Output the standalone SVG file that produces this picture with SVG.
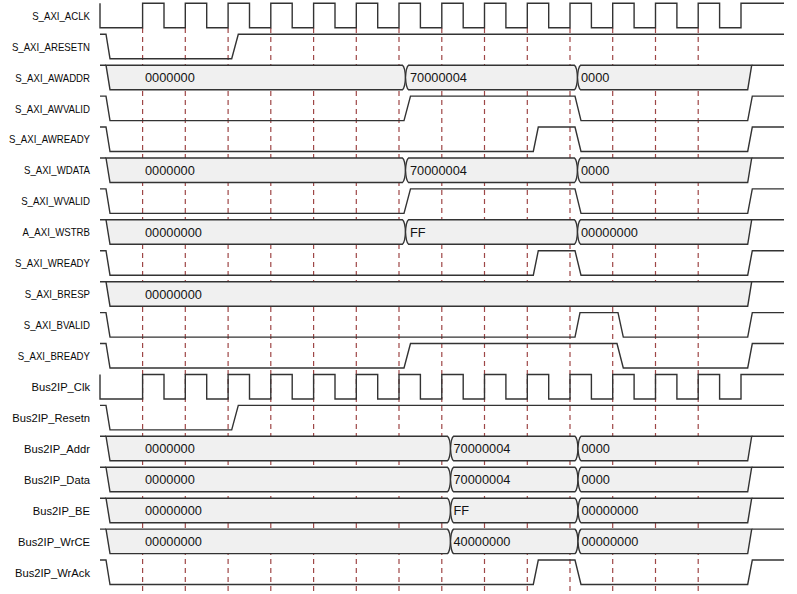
<svg xmlns="http://www.w3.org/2000/svg" xmlns:xlink="http://www.w3.org/1999/xlink" width="797" height="594" viewBox="0 0 797 594">
<style>
.sig{fill:none;stroke:#333333;stroke-width:1.4;stroke-linejoin:miter}
.bus{fill:#f0f0f0;stroke:#333333;stroke-width:1.4}
.grid{stroke:#9e4646;stroke-width:1.2;stroke-dasharray:5,4;fill:none}
.lbl{font-family:"Liberation Sans",Arial,sans-serif;font-size:11.2px;fill:#0a0a0a;text-anchor:end}
.val{font-family:"Liberation Sans",Arial,sans-serif;font-size:12.8px;fill:#141414}
</style>
<defs>
<path id="clk" class="sig" d="M100,0 V24.5 H142.6 V0 H164 V24.5 H185.3 V0 H206.7 V24.5 H228.1 V0 H249.5 V24.5 H270.8 V0 H292.2 V24.5 H313.6 V0 H335 V24.5 H356.3 V0 H377.7 V24.5 H399 V0 H420.4 V24.5 H441.8 V0 H463.2 V24.5 H484.5 V0 H505.9 V24.5 H527.3 V0 H548.7 V24.5 H570 V0 H591.4 V24.5 H612.7 V0 H634.1 V24.5 H655.5 V0 H676.9 V24.5 H698.2 V0 H719.6 V24.5 H741 V0 H784"/>
<path id="rst" class="sig" d="M100,0 H106 L110,24.5 H231.7 L238.3,0 H784"/>
<path id="valid" class="sig" d="M100,0 H106 L110,24.5 H404 L410.5,0 H575 L581,24.5 H747.7 L752.3,0 H784"/>
<path id="ready" class="sig" d="M100,0 H106 L110,24.5 H533.3 L538.3,0 H575 L581,24.5 H747.7 L752.3,0 H784"/>
<path id="bvalid" class="sig" d="M100,0 H106 L110,24.5 H575 L580,0 H618 L623.3,24.5 H747.7 L752.3,0 H784"/>
<path id="bready" class="sig" d="M100,0 H106 L110,24.5 H404 L410.5,0 H617 L623.3,24.5 H747.7 L752.3,0 H784"/>
<g id="busA">
<path class="sig" d="M100,0 H106 M751.7,0 H784"/>
<path class="bus" d="M106,0 H402.5 Q405,2 405.5,12.25 Q405,22.5 402.5,24.5 H110 Z"/>
<path class="bus" d="M408.5,0 H574.5 Q577,2 577.5,12.25 Q577,22.5 574.5,24.5 H408.5 Q406,22.5 405.5,12.25 Q406,2 408.5,0 Z"/>
<path class="bus" d="M580.5,0 H751.7 L747.7,24.5 H580.5 Q578,22.5 577.5,12.25 Q578,2 580.5,0 Z"/>
</g>
<g id="busB">
<path class="sig" d="M100,0 H106 M751.7,0 H784"/>
<path class="bus" d="M106,0 H447.5 Q450,2 450.5,12.25 Q450,22.5 447.5,24.5 H110 Z"/>
<path class="bus" d="M453.5,0 H575 Q577.5,2 578,12.25 Q577.5,22.5 575,24.5 H453.5 Q451,22.5 450.5,12.25 Q451,2 453.5,0 Z"/>
<path class="bus" d="M581,0 H751.7 L747.7,24.5 H581 Q578.5,22.5 578,12.25 Q578.5,2 581,0 Z"/>
</g>
<g id="busN">
<path class="sig" d="M100,0 H106 M751.7,0 H784"/>
<path class="bus" d="M106,0 H751.7 L747.7,24.5 H110 Z"/>
</g>
</defs>
<rect width="797" height="594" fill="#ffffff"/>
<g id="connectors">
<path class="grid" d="M142.6,28 V592 M185.3,28 V592 M228.1,28 V592 M270.8,28 V592 M313.6,28 V592 M356.3,28 V592 M399,28 V592 M441.8,28 V592 M484.5,28 V592 M527.3,28 V592 M570,28 V592 M612.7,28 V592 M655.5,28 V592 M698.2,28 V592"/>
</g>
<g id="s_axi_aclk" transform="translate(0,3.3)"><text class="lbl" x="90" y="16.5" transform="matrix(0.86,0,0,1,12.6,0)">S_AXI_ACLK</text><use href="#clk"/></g>
<g id="s_axi_aresetn" transform="translate(0,34.2)"><text class="lbl" x="90" y="16.5" transform="matrix(0.86,0,0,1,12.6,0)">S_AXI_ARESETN</text><use href="#rst"/></g>
<g id="s_axi_awaddr" transform="translate(0,65.2)"><text class="lbl" x="90" y="16.5" transform="matrix(0.86,0,0,1,12.6,0)">S_AXI_AWADDR</text><use href="#busA"/><text class="val" x="145" y="17">0000000</text><text class="val" x="410" y="17">70000004</text><text class="val" x="581" y="17">0000</text></g>
<g id="s_axi_awvalid" transform="translate(0,96.1)"><text class="lbl" x="90" y="16.5" transform="matrix(0.86,0,0,1,12.6,0)">S_AXI_AWVALID</text><use href="#valid"/></g>
<g id="s_axi_awready" transform="translate(0,127)"><text class="lbl" x="90" y="16.5" transform="matrix(0.86,0,0,1,12.6,0)">S_AXI_AWREADY</text><use href="#ready"/></g>
<g id="s_axi_wdata" transform="translate(0,158)"><text class="lbl" x="90" y="16.5" transform="matrix(0.86,0,0,1,12.6,0)">S_AXI_WDATA</text><use href="#busA"/><text class="val" x="145" y="17">0000000</text><text class="val" x="410" y="17">70000004</text><text class="val" x="581" y="17">0000</text></g>
<g id="s_axi_wvalid" transform="translate(0,188.9)"><text class="lbl" x="90" y="16.5" transform="matrix(0.86,0,0,1,12.6,0)">S_AXI_WVALID</text><use href="#valid"/></g>
<g id="a_axi_wstrb" transform="translate(0,219.8)"><text class="lbl" x="90" y="16.5" transform="matrix(0.86,0,0,1,12.6,0)">A_AXI_WSTRB</text><use href="#busA"/><text class="val" x="145" y="17">00000000</text><text class="val" x="410" y="17">FF</text><text class="val" x="581" y="17">00000000</text></g>
<g id="s_axi_wready" transform="translate(0,250.7)"><text class="lbl" x="90" y="16.5" transform="matrix(0.86,0,0,1,12.6,0)">S_AXI_WREADY</text><use href="#ready"/></g>
<g id="s_axi_bresp" transform="translate(0,281.7)"><text class="lbl" x="90" y="16.5" transform="matrix(0.86,0,0,1,12.6,0)">S_AXI_BRESP</text><use href="#busN"/><text class="val" x="145" y="17">00000000</text></g>
<g id="s_axi_bvalid" transform="translate(0,312.6)"><text class="lbl" x="90" y="16.5" transform="matrix(0.86,0,0,1,12.6,0)">S_AXI_BVALID</text><use href="#bvalid"/></g>
<g id="s_axi_bready" transform="translate(0,343.5)"><text class="lbl" x="90" y="16.5" transform="matrix(0.86,0,0,1,12.6,0)">S_AXI_BREADY</text><use href="#bready"/></g>
<g id="bus2ip_clk" transform="translate(0,374.5)"><text class="lbl" x="90" y="16.5">Bus2IP_Clk</text><use href="#clk"/></g>
<g id="bus2ip_resetn" transform="translate(0,405.4)"><text class="lbl" x="90" y="16.5">Bus2IP_Resetn</text><use href="#rst"/></g>
<g id="bus2ip_addr" transform="translate(0,436.3)"><text class="lbl" x="90" y="16.5">Bus2IP_Addr</text><use href="#busB"/><text class="val" x="145" y="17">0000000</text><text class="val" x="453.5" y="17">70000004</text><text class="val" x="581.5" y="17">0000</text></g>
<g id="bus2ip_data" transform="translate(0,467.3)"><text class="lbl" x="90" y="16.5">Bus2IP_Data</text><use href="#busB"/><text class="val" x="145" y="17">0000000</text><text class="val" x="453.5" y="17">70000004</text><text class="val" x="581.5" y="17">0000</text></g>
<g id="bus2ip_be" transform="translate(0,498.2)"><text class="lbl" x="90" y="16.5">Bus2IP_BE</text><use href="#busB"/><text class="val" x="145" y="17">00000000</text><text class="val" x="453.5" y="17">FF</text><text class="val" x="581.5" y="17">00000000</text></g>
<g id="bus2ip_wrce" transform="translate(0,529.1)"><text class="lbl" x="90" y="16.5">Bus2IP_WrCE</text><use href="#busB"/><text class="val" x="145" y="17">00000000</text><text class="val" x="453.5" y="17">40000000</text><text class="val" x="581.5" y="17">00000000</text></g>
<g id="bus2ip_wrack" transform="translate(0,560)"><text class="lbl" x="90" y="16.5">Bus2IP_WrAck</text><use href="#ready"/></g>
</svg>
